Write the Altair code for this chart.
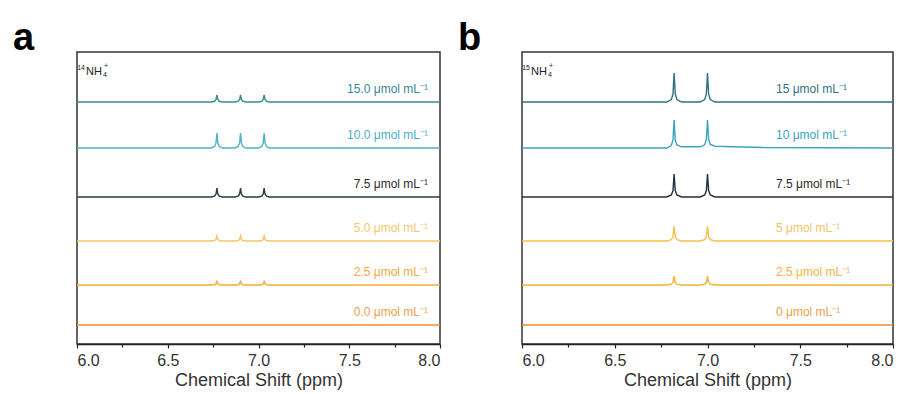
import altair as alt
import pandas as pd

# ---------------- data ----------------
# panel a: 14NH4+ triplet
xa = [6.00, 6.74, 6.758, 6.766, 6.771, 6.776, 6.784, 6.80,
      6.87, 6.888, 6.896, 6.901, 6.906, 6.914, 6.93,
      7.00, 7.018, 7.026, 7.031, 7.036, 7.044, 7.06, 8.00]
a_15 = [0, 0, 0.7, 2.5, 7, 2.5, 0.7, 0, 0, 0.7, 2.5, 7, 2.5, 0.7, 0, 0, 0.7, 2.5, 7, 2.5, 0.7, 0, 0]
a_10 = [0, 0, 1.5, 5, 15, 5, 1.5, 0, 0, 1.5, 5, 15, 5, 1.5, 0, 0, 1.5, 5, 15, 5, 1.5, 0, 0]
a_75 = [0, 0, 0.9, 3, 9, 3, 0.9, 0, 0, 0.9, 3, 9, 3, 0.9, 0, 0, 0.9, 3, 9, 3, 0.9, 0, 0]
a_50 = [0, 0, 0.5, 1.7, 5, 1.7, 0.5, 0, 0, 0.5, 1.7, 5, 1.7, 0.5, 0, 0, 0.5, 1.7, 5, 1.7, 0.5, 0, 0]
a_25 = [0, 0, 0.3, 1.2, 3.5, 1.2, 0.3, 0, 0, 0.3, 1.2, 3.5, 1.2, 0.3, 0, 0, 0.3, 1.2, 3.5, 1.2, 0.3, 0, 0]
a_00 = [0, 0, 0, 0, 0, 0, 0, 0, 0, 0, 0, 0, 0, 0, 0, 0, 0, 0, 0, 0, 0, 0, 0]
a_labels = ["15.0 μmol mL⁻¹", "10.0 μmol mL⁻¹", "7.5 μmol mL⁻¹",
            "5.0 μmol mL⁻¹", "2.5 μmol mL⁻¹", "0.0 μmol mL⁻¹"]

# panel b: 15NH4+ doublet
xb = [6.00, 6.78, 6.805, 6.814, 6.820, 6.826, 6.835, 6.86,
      6.96, 6.985, 6.994, 7.000, 7.006, 7.015, 7.04, 7.30, 8.00]
b_15 = [0, 0, 2.5, 8, 29, 8, 2.5, 0, 0, 2.5, 8, 29, 8, 2.5, 0, 0, 0]
b_10 = [0, 0, 2.5, 8, 28, 8, 3, 1.2, 1.2, 3.2, 9, 28, 9, 3.5, 1.8, 0.5, 0]
b_75 = [0, 0, 2, 6.5, 23, 6.5, 2, 0, 0, 2, 6.5, 23, 6.5, 2, 0, 0, 0]
b_50 = [0, 0, 1.3, 4, 15, 4, 1.3, 0, 0, 1.3, 4, 15, 4, 1.3, 0, 0, 0]
b_25 = [0, 0, 0.8, 2.5, 9, 2.5, 0.8, 0, 0, 0.8, 2.5, 9, 2.5, 0.8, 0, 0, 0]
b_00 = [0, 0, 0, 0, 0, 0, 0, 0, 0, 0, 0, 0, 0, 0, 0, 0, 0]
b_labels = ["15 μmol mL⁻¹", "10 μmol mL⁻¹", "7.5 μmol mL⁻¹",
            "5 μmol mL⁻¹", "2.5 μmol mL⁻¹", "0 μmol mL⁻¹"]

# vertical stacking offsets of each trace (top to bottom)
offsets = [242, 196, 147, 103, 59, 19]

# inset label pieces: isotope mass, species, subscript, charge
a_inset = ["14", "NH", "4", "+"]
b_inset = ["15", "NH", "4", "+"]

a_line_colors = ["#3d8b99", "#4db3c8", "#2d3a44", "#f6c56a", "#f5a93a", "#ef8e35"]
a_text_colors = ["#3a8797", "#4aaec4", "#2b2b2b", "#f3c870", "#f0aa45", "#eda050"]
b_line_colors = ["#2f7282", "#3aa3c0", "#24303a", "#f5c04d", "#f6b232", "#ee8a2c"]
b_text_colors = ["#2f7282", "#3aa3c0", "#2b2b2b", "#f3c46a", "#f2b445", "#eea050"]

FONT = "Liberation Sans"
W_A, W_B, H = 363, 371, 292
tick_vals = [6.0, 6.25, 6.5, 6.75, 7.0, 7.25, 7.5, 7.75, 8.0]


def build_df(xs, series, labels):
    rows = []
    for i, (ys, lab) in enumerate(zip(series, labels)):
        for x, y in zip(xs, ys):
            rows.append({"x": x, "y": y + offsets[i], "s": lab, "k": i})
    return pd.DataFrame(rows)


def inset_marks(parts):
    # (x, y, size, align) of each piece in pixels inside the frame
    specs = [(8, 16, 7, "right"), (9, 20, 11, "left"), (26, 23, 7, "left"), (27, 14, 7, "left")]
    out = []
    for p, (x, y, sz, al) in zip(parts, specs):
        out.append(alt.Chart(pd.DataFrame({"t": [p]})).mark_text(
            font=FONT, fontSize=sz, align=al, baseline="middle", color="#222"
        ).encode(x=alt.value(x), y=alt.value(y), text="t:N"))
    return out


def panel(xs, series, labels, line_colors, text_colors, letter, inset, width,
          label_x, label_align, widths):
    df = build_df(xs, series, labels)
    lab_df = pd.DataFrame({"s": labels, "off": offsets, "k": list(range(6))})
    xscale = alt.Scale(domain=[6, 8], nice=False)
    yscale = alt.Scale(domain=[0, H], nice=False)
    xaxis = alt.Axis(
        values=tick_vals,
        labelExpr="datum.value % 0.5 === 0 ? format(datum.value, '.1f') : ''",
        title="Chemical Shift (ppm)", grid=False,
        tickSize={"condition": {"test": "datum.value % 0.5 === 0", "value": 4}, "value": 3},
        tickColor="#222", domainColor="#222", domainWidth=1.5, tickWidth=1.2,
        labelFont=FONT, labelFontSize=16, labelColor="#333", labelPadding=4,
        titleFont=FONT, titleFontSize=18, titleFontWeight="normal",
        titleColor="#333", titlePadding=3,
    )
    lines = alt.Chart(df).mark_line(interpolate="linear").encode(
        x=alt.X("x:Q", scale=xscale, axis=xaxis),
        y=alt.Y("y:Q", scale=yscale, axis=None),
        detail="k:N",
        color=alt.Color("s:N", scale=alt.Scale(domain=labels, range=line_colors), legend=None),
        strokeWidth=alt.StrokeWidth("k:N", scale=alt.Scale(domain=list(range(6)), range=widths), legend=None),
    )
    texts = alt.Chart(lab_df).mark_text(
        font=FONT, fontSize=12, align=label_align, baseline="middle", dy=-13
    ).encode(
        x=alt.value(label_x),
        y=alt.Y("off:Q", scale=yscale, axis=None),
        text="s:N",
        color=alt.Color("s:N", scale=alt.Scale(domain=labels, range=text_colors), legend=None),
    )
    return alt.layer(lines, texts, *inset_marks(inset)).resolve_scale(color="independent").properties(
        width=width, height=H,
        title=alt.TitleParams(text=letter, anchor="start", frame="group", dx=-64,
                              fontSize=38, fontWeight="bold", font=FONT,
                              color="#000", offset=-6),
    )


pa = panel(xa, [a_15, a_10, a_75, a_50, a_25, a_00], a_labels, a_line_colors,
           a_text_colors, "a", a_inset, W_A, 351, "right",
           [1.4, 1.4, 1.4, 1.6, 1.8, 2.2])
pb = panel(xb, [b_15, b_10, b_75, b_50, b_25, b_00], b_labels, b_line_colors,
           b_text_colors, "b", b_inset, W_B, 254, "left",
           [1.4, 1.4, 1.4, 1.6, 1.8, 2.2])

chart = alt.hconcat(pa, pb, spacing=82, bounds="flush").properties(
    padding={"left": 12, "top": 19, "right": 5, "bottom": 0},
    background="white",
).configure_view(stroke="#333", strokeWidth=1.5)

chart.save("out.html", embed_options={"renderer": "svg", "actions": False})
